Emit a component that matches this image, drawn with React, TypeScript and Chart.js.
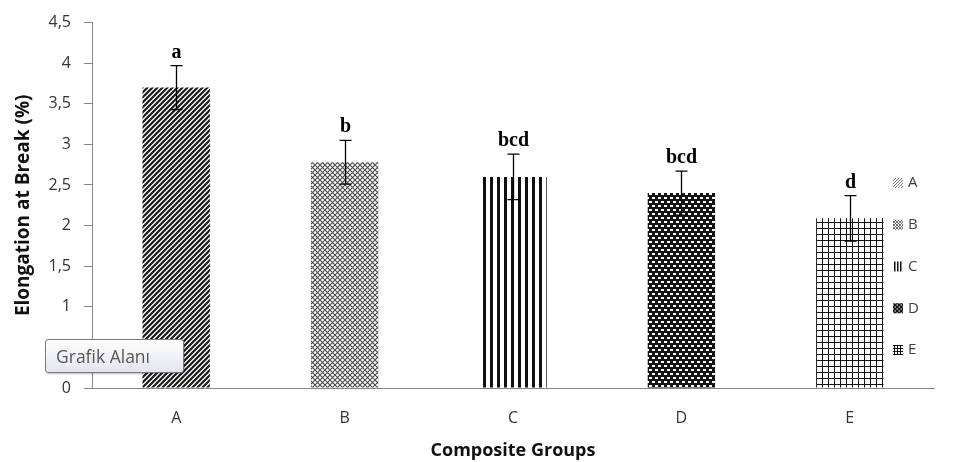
import React, { useEffect, useRef } from 'react';
import { Chart, registerables } from 'chart.js';

Chart.register(...registerables);

// ---- data ----
const categories = ['A', 'B', 'C', 'D', 'E'];
const values = [3.7, 2.78, 2.6, 2.4, 2.09];
const errors = [0.27, 0.27, 0.28, 0.27, 0.28];
const letters = ['a', 'b', 'bcd', 'bcd', 'd'];
const yTickLabels = ['0', '0,5', '1', '1,5', '2', '2,5', '3', '3,5', '4', '4,5'];
const yAxisTitle = 'Elongation at Break (%)';
const xAxisTitle = 'Composite Groups';
const hintText = 'Grafik Alanı';

type Kind = 0 | 1 | 2 | 3 | 4;

function makePattern(kind: Kind, small: boolean): CanvasPattern {
  const c = document.createElement('canvas');
  let ctx: CanvasRenderingContext2D;
  if (kind === 0) {
    const s = small ? 3 : 5;
    c.width = s; c.height = s;
    ctx = c.getContext('2d')!;
    ctx.fillStyle = '#fff'; ctx.fillRect(0, 0, s, s);
    ctx.strokeStyle = small ? '#777' : '#1a1a1a';
    ctx.lineWidth = small ? 1 : 2.2;
    ctx.beginPath();
    ctx.moveTo(-1, s + 1); ctx.lineTo(s + 1, -1);
    ctx.moveTo(-1, 1); ctx.lineTo(1, -1);
    ctx.moveTo(s - 1, s + 1); ctx.lineTo(s + 1, s - 1);
    ctx.stroke();
  } else if (kind === 1) {
    const s = small ? 3 : 5;
    c.width = s; c.height = s;
    ctx = c.getContext('2d')!;
    ctx.fillStyle = '#fff'; ctx.fillRect(0, 0, s, s);
    ctx.strokeStyle = '#4a4a4a';
    ctx.lineWidth = small ? 0.8 : 1.1;
    ctx.beginPath();
    ctx.moveTo(0, 0); ctx.lineTo(s, s);
    ctx.moveTo(0, s); ctx.lineTo(s, 0);
    ctx.stroke();
  } else if (kind === 2) {
    const w = small ? 3 : 7;
    c.width = w; c.height = 4;
    ctx = c.getContext('2d')!;
    ctx.fillStyle = '#fff'; ctx.fillRect(0, 0, w, 4);
    ctx.fillStyle = '#111';
    ctx.fillRect(0, 0, small ? 1.5 : 3, 4);
  } else if (kind === 3) {
    const w = small ? 4 : 6;
    const h = small ? 4 : 8;
    c.width = w; c.height = h;
    ctx = c.getContext('2d')!;
    ctx.fillStyle = '#151515'; ctx.fillRect(0, 0, w, h);
    ctx.fillStyle = '#fff';
    if (small) {
      ctx.fillRect(0.5, 0.5, 1.5, 1);
      ctx.fillRect(2.5, 2.5, 1.5, 1);
    } else {
      ctx.fillRect(1, 1, 3, 2);
      ctx.fillRect(4, 5, 2, 2);
      ctx.fillRect(0, 5, 1, 2);
    }
  } else {
    const s = small ? 3 : 6;
    c.width = s; c.height = s;
    ctx = c.getContext('2d')!;
    ctx.fillStyle = '#fff'; ctx.fillRect(0, 0, s, s);
    ctx.fillStyle = '#111';
    ctx.fillRect(0, 0, 1, s);
    ctx.fillRect(0, 0, s, 1);
  }
  return ctx.createPattern(c, 'repeat')!;
}

export default function App() {
  const ref = useRef<HTMLCanvasElement | null>(null);

  useEffect(() => {
    if (!ref.current) return;
    const barPatterns = categories.map((_, i) => makePattern(i as Kind, false));
    const legendPatterns = categories.map((_, i) => makePattern(i as Kind, true));

    const errorPlugin = {
      id: 'errorBars',
      afterDatasetsDraw(chart: any) {
        const meta = chart.getDatasetMeta(0);
        const ys = chart.scales.y;
        const ctx: CanvasRenderingContext2D = chart.ctx;
        ctx.save();
        meta.data.forEach((bar: any, i: number) => {
          const x = Math.round(bar.x) + 0.5;
          const top = ys.getPixelForValue(values[i] + errors[i]);
          const bot = ys.getPixelForValue(values[i] - errors[i]);
          ctx.strokeStyle = '#000';
          ctx.lineWidth = 1.3;
          ctx.beginPath();
          ctx.moveTo(x, top); ctx.lineTo(x, bot);
          ctx.moveTo(x - 6, top); ctx.lineTo(x + 6, top);
          ctx.moveTo(x - 6, bot); ctx.lineTo(x + 6, bot);
          ctx.stroke();
          ctx.font = 'bold 20px "Liberation Serif", "DejaVu Serif", serif';
          ctx.textAlign = 'center';
          ctx.textBaseline = 'alphabetic';
          ctx.fillStyle = '#000';
          ctx.fillText(letters[i], x, top - 8);
        });
        ctx.restore();
      },
    };

    const legendPlugin = {
      id: 'sideLegend',
      afterDraw(chart: any) {
        const ctx: CanvasRenderingContext2D = chart.ctx;
        ctx.save();
        categories.forEach((cat, i) => {
          const cy = 183 + i * 41.75;
          ctx.fillStyle = legendPatterns[i];
          ctx.fillRect(893, cy - 5, 10, 10);
          ctx.fillStyle = '#404040';
          ctx.font = '15px "Open Sans", sans-serif';
          ctx.textAlign = 'left';
          ctx.textBaseline = 'middle';
          ctx.fillText(cat, 908, cy);
        });
        ctx.restore();
      },
    };

    const tickFont = { family: '"Open Sans", sans-serif', size: 16 };
    const chart = new Chart(ref.current, {
      type: 'bar',
      data: {
        labels: categories,
        datasets: [
          {
            data: values,
            backgroundColor: barPatterns as any,
            borderWidth: 0,
            barPercentage: 0.4,
            categoryPercentage: 1,
          },
        ],
      },
      options: {
        responsive: false,
        animation: false,
        layout: { padding: { top: 22, right: 19, left: 0, bottom: 0 } },
        plugins: { legend: { display: false }, tooltip: { enabled: false } },
        scales: {
          x: {
            grid: { display: false, drawTicks: false },
            border: { display: true, color: '#868686', width: 1 },
            ticks: { color: '#333', font: tickFont, padding: 21 },
            title: {
              display: true,
              text: xAxisTitle,
              color: '#111',
              font: { family: '"Open Sans", sans-serif', size: 18, weight: 'bold' },
              padding: { top: 0, bottom: 0 },
            },
            afterFit(s: any) { s.height = 74; },
          },
          y: {
            min: 0,
            max: 4.5,
            ticks: {
              stepSize: 0.5,
              color: '#333',
              font: tickFont,
              padding: 13,
              callback: (_v: any, i: number) => yTickLabels[i],
            },
            grid: { drawOnChartArea: false, drawTicks: true, tickLength: 8, color: '#868686' },
            border: { display: true, color: '#868686', width: 1 },
            title: {
              display: true,
              text: yAxisTitle,
              color: '#111',
              font: { family: '"Open Sans", sans-serif', size: 19, weight: 'bold' },
              padding: { top: 12, bottom: 0 },
            },
            afterFit(s: any) { s.width = 92; },
          },
        },
      },
      plugins: [errorPlugin, legendPlugin],
    } as any);
    return () => chart.destroy();
  }, []);

  return (
    <div style={{ position: 'absolute', left: 0, top: 0, width: 953, height: 462, background: '#fff' }}>
      <canvas ref={ref} width={953} height={462} style={{ display: 'block' }} />
      <div
        style={{
          position: 'absolute',
          left: 45,
          top: 339,
          width: 139,
          height: 34,
          boxSizing: 'border-box',
          border: '1px solid #7a7a7a',
          borderRadius: 3,
          background: 'linear-gradient(#ffffff, #e3e4ef)',
          boxShadow: '1px 1px 2px rgba(0,0,0,0.25)',
          fontFamily: '"Open Sans", sans-serif',
          fontSize: 17.5,
          color: '#575757',
          lineHeight: '32px',
          paddingLeft: 10,
          whiteSpace: 'nowrap',
        }}
      >
        {hintText}
      </div>
    </div>
  );
}
